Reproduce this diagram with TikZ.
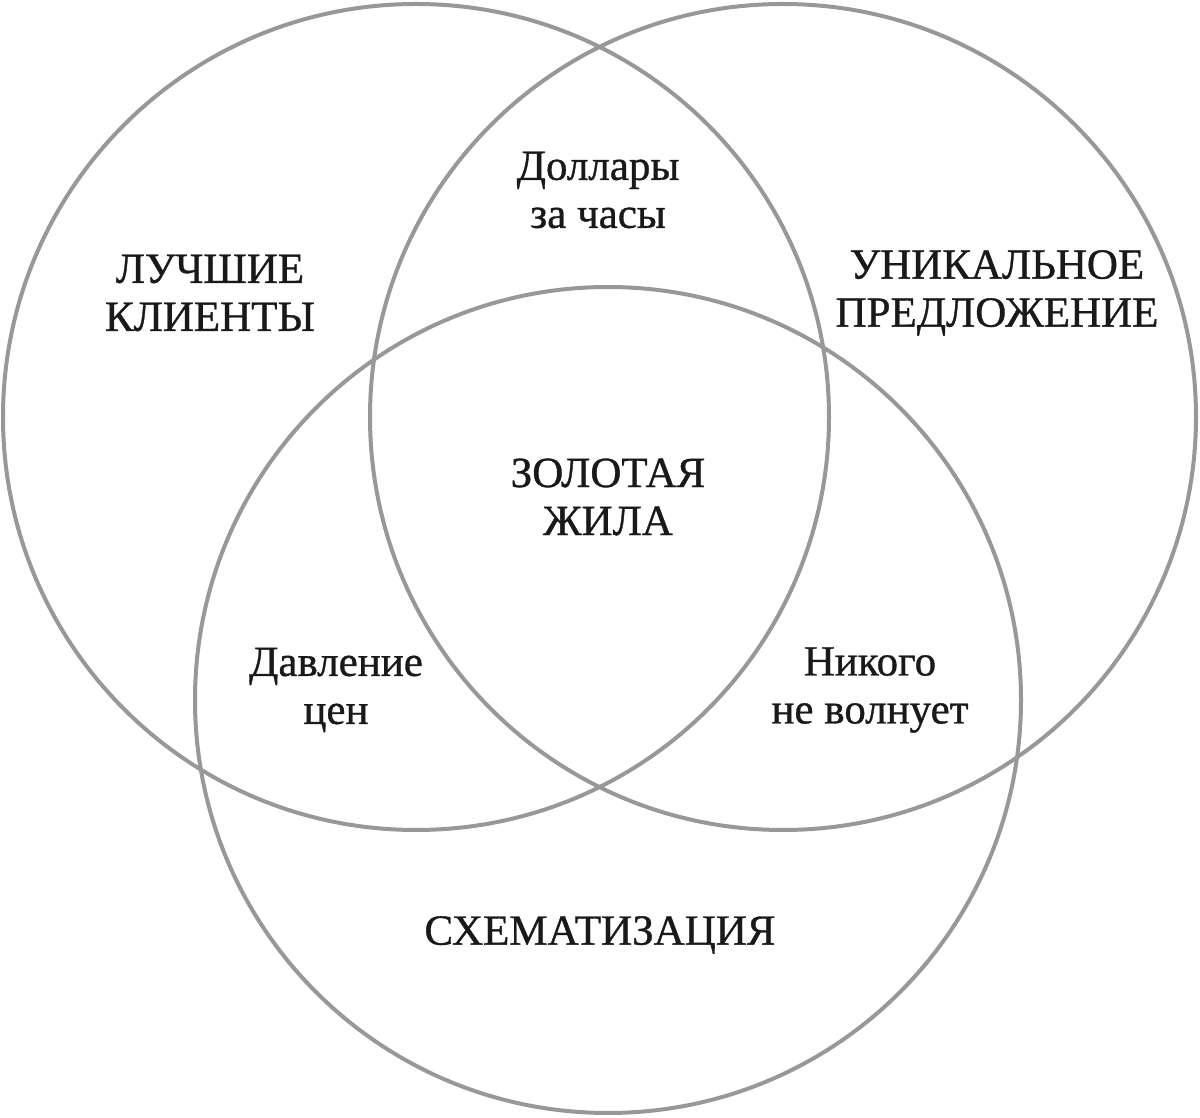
\documentclass[tikz,border=0pt]{standalone}
\usepackage{fontspec}
\setmainfont{Liberation Serif}
\newfontfamily\lblfont[FakeBold=0.8]{Liberation Serif}
\definecolor{ringgray}{RGB}{152,152,152}
\begin{document}
\begin{tikzpicture}[x=1pt,y=1pt,
  ring/.style={draw=ringgray,line width=4pt},
  lbl/.style={align=center,inner sep=0pt,text=black!90,font=\lblfont\fontsize{43}{48}\selectfont}]
\useasboundingbox (0,0) rectangle (1200,1117);
\draw[ring] (416,700) circle (413);
\draw[ring] (783,700) circle (413);
\draw[ring] (608,417) circle (413);
\node[lbl] (best) at (210,824) {ЛУЧШИЕ\\КЛИЕНТЫ};
\node[lbl] (uniq) at (997,824) {УНИКАЛЬНОЕ\\ПРЕДЛОЖЕНИЕ};
\node[lbl] (dollars) at (598,927) {Доллары\\за часы};
\node[lbl] (gold) at (608,620) {ЗОЛОТАЯ\\ЖИЛА};
\node[lbl] (price) at (336,427) {Давление\\цен};
\node[lbl] (nobody) at (870,427) {Никого\\не волнует};
\node[lbl] (schem) at (600,182) {СХЕМАТИЗАЦИЯ};
\end{tikzpicture}
\end{document}
